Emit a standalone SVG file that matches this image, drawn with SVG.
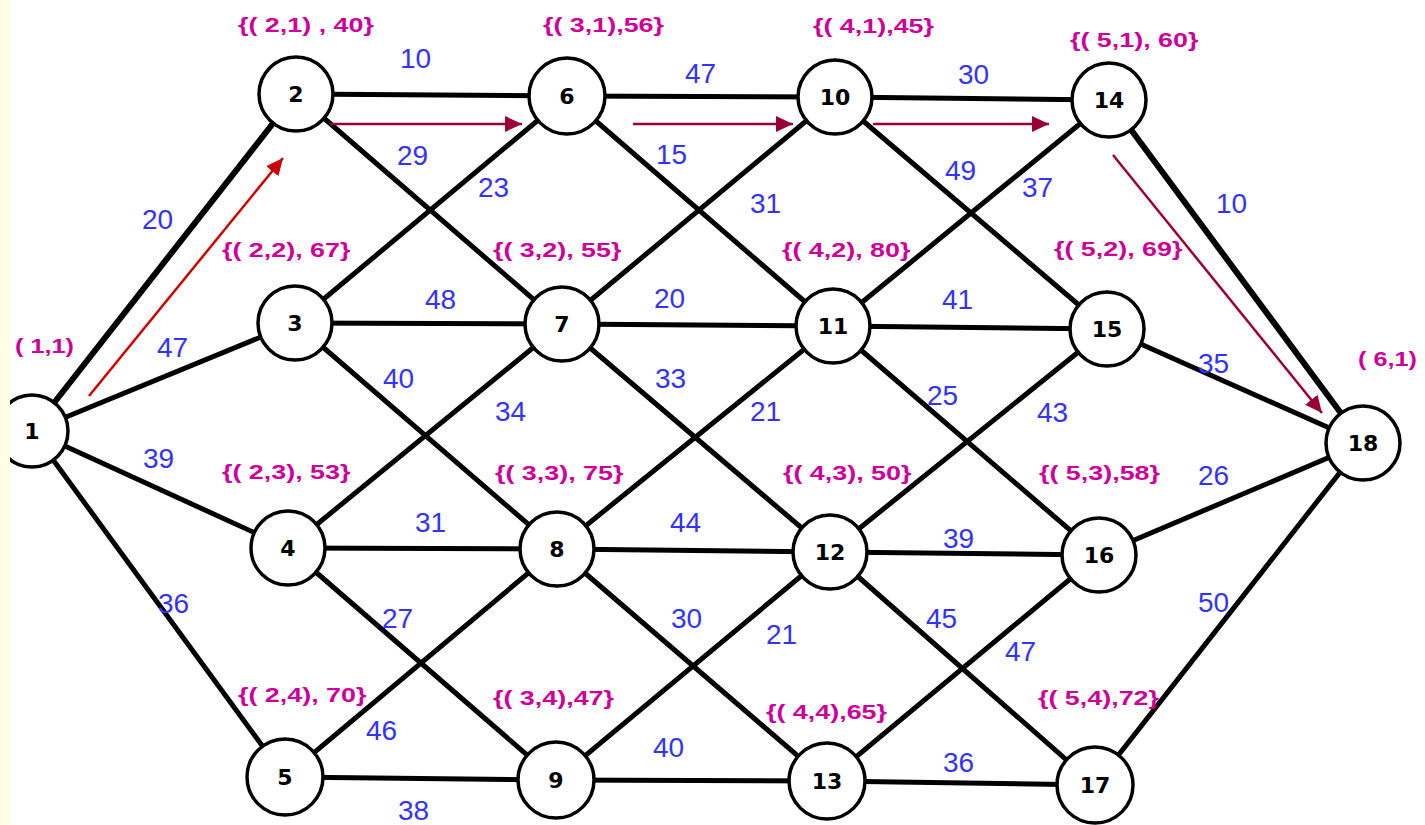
<svg xmlns="http://www.w3.org/2000/svg" width="1425" height="825" viewBox="0 0 1425 825">
<defs>
<style>
.e{stroke:#000;stroke-width:5;stroke-linecap:round}
.n circle{fill:#fff;stroke:#000;stroke-width:3.5}
.n text{font-family:"DejaVu Sans",sans-serif;font-weight:bold;font-size:22px;fill:#000;text-anchor:middle}
.w{font-family:"Liberation Sans",Arial,sans-serif;font-size:28px;fill:#3333FF}
.p{font-family:"Liberation Sans",Arial,sans-serif;font-weight:bold;font-size:21px;fill:#CC0099}
.ar{stroke-width:2.5;fill:none}
</style>
<marker id="hr" markerUnits="userSpaceOnUse" markerWidth="18" markerHeight="16" refX="17" refY="8" orient="auto"><path d="M0,0 L17,8 L0,16 z" fill="#CC0000"/></marker>
<marker id="hm" markerUnits="userSpaceOnUse" markerWidth="18" markerHeight="16" refX="17" refY="8" orient="auto"><path d="M0,0 L17,8 L0,16 z" fill="#990033"/></marker>
</defs>
<rect x="0" y="0" width="1425" height="825" fill="#fff"/>
<g id="connectors">
<line class="e" x1="32" y1="431" x2="296" y2="94" style="stroke-width:6"/>
<line class="e" x1="32" y1="431" x2="295" y2="323"/>
<line class="e" x1="32" y1="431" x2="288" y2="548"/>
<line class="e" x1="32" y1="431" x2="285" y2="777"/>
<line class="e" x1="296" y1="94" x2="567" y2="96"/>
<line class="e" x1="296" y1="94" x2="562" y2="324"/>
<line class="e" x1="295" y1="323" x2="567" y2="96"/>
<line class="e" x1="295" y1="323" x2="562" y2="324"/>
<line class="e" x1="295" y1="323" x2="557" y2="549"/>
<line class="e" x1="288" y1="548" x2="562" y2="324"/>
<line class="e" x1="288" y1="548" x2="557" y2="549"/>
<line class="e" x1="288" y1="548" x2="556" y2="780"/>
<line class="e" x1="285" y1="777" x2="557" y2="549"/>
<line class="e" x1="285" y1="777" x2="556" y2="780"/>
<line class="e" x1="567" y1="96" x2="835" y2="97"/>
<line class="e" x1="567" y1="96" x2="833" y2="326"/>
<line class="e" x1="562" y1="324" x2="835" y2="97"/>
<line class="e" x1="562" y1="324" x2="833" y2="326"/>
<line class="e" x1="562" y1="324" x2="830" y2="552"/>
<line class="e" x1="557" y1="549" x2="833" y2="326"/>
<line class="e" x1="557" y1="549" x2="830" y2="552"/>
<line class="e" x1="557" y1="549" x2="827" y2="781"/>
<line class="e" x1="556" y1="780" x2="830" y2="552"/>
<line class="e" x1="556" y1="780" x2="827" y2="781"/>
<line class="e" x1="835" y1="97" x2="1109" y2="100"/>
<line class="e" x1="835" y1="97" x2="1107" y2="329"/>
<line class="e" x1="833" y1="326" x2="1109" y2="100"/>
<line class="e" x1="833" y1="326" x2="1107" y2="329"/>
<line class="e" x1="833" y1="326" x2="1099" y2="555"/>
<line class="e" x1="830" y1="552" x2="1107" y2="329"/>
<line class="e" x1="830" y1="552" x2="1099" y2="555"/>
<line class="e" x1="830" y1="552" x2="1095" y2="785"/>
<line class="e" x1="827" y1="781" x2="1099" y2="555"/>
<line class="e" x1="827" y1="781" x2="1095" y2="785"/>
<line class="e" x1="1109" y1="100" x2="1363" y2="443" style="stroke-width:6"/>
<line class="e" x1="1107" y1="329" x2="1363" y2="443"/>
<line class="e" x1="1099" y1="555" x2="1363" y2="443"/>
<line class="e" x1="1095" y1="785" x2="1363" y2="443"/>
<line class="ar" stroke="#CC0000" x1="89" y1="396" x2="283" y2="158" marker-end="url(#hr)"/>
<line class="ar" stroke="#990033" x1="330" y1="124" x2="522" y2="124" marker-end="url(#hm)"/>
<line class="ar" stroke="#990033" x1="633" y1="124" x2="793" y2="124" marker-end="url(#hm)"/>
<line class="ar" stroke="#990033" x1="873" y1="124" x2="1049" y2="124" marker-end="url(#hm)"/>
<line class="ar" stroke="#990033" x1="1113" y1="155" x2="1322" y2="413" marker-end="url(#hm)"/>
</g>
<g id="n1" class="n"><circle cx="32" cy="431" r="36"/><text x="32" y="439">1</text></g>
<g id="n2" class="n"><circle cx="296" cy="94" r="37"/><text x="296" y="102">2</text></g>
<g id="n3" class="n"><circle cx="295" cy="323" r="37"/><text x="295" y="331">3</text></g>
<g id="n4" class="n"><circle cx="288" cy="548" r="37"/><text x="288" y="556">4</text></g>
<g id="n5" class="n"><circle cx="285" cy="777" r="38"/><text x="285" y="785">5</text></g>
<g id="n6" class="n"><circle cx="567" cy="96" r="38"/><text x="567" y="104">6</text></g>
<g id="n7" class="n"><circle cx="562" cy="324" r="37"/><text x="562" y="332">7</text></g>
<g id="n8" class="n"><circle cx="557" cy="549" r="37"/><text x="557" y="557">8</text></g>
<g id="n9" class="n"><circle cx="556" cy="780" r="38"/><text x="556" y="788">9</text></g>
<g id="n10" class="n"><circle cx="835" cy="97" r="37"/><text x="835" y="105">10</text></g>
<g id="n11" class="n"><circle cx="833" cy="326" r="37"/><text x="833" y="334">11</text></g>
<g id="n12" class="n"><circle cx="830" cy="552" r="37"/><text x="830" y="560">12</text></g>
<g id="n13" class="n"><circle cx="827" cy="781" r="38"/><text x="827" y="789">13</text></g>
<g id="n14" class="n"><circle cx="1109" cy="100" r="37"/><text x="1109" y="108">14</text></g>
<g id="n15" class="n"><circle cx="1107" cy="329" r="37"/><text x="1107" y="337">15</text></g>
<g id="n16" class="n"><circle cx="1099" cy="555" r="37"/><text x="1099" y="563">16</text></g>
<g id="n17" class="n"><circle cx="1095" cy="785" r="38"/><text x="1095" y="793">17</text></g>
<g id="n18" class="n"><circle cx="1363" cy="443" r="37"/><text x="1363" y="451">18</text></g>
<rect x="0" y="0" width="10" height="825" fill="#FFFFE5"/>
<g id="weights">
<text class="w" x="400" y="68">10</text>
<text class="w" x="685" y="83">47</text>
<text class="w" x="958" y="84">30</text>
<text class="w" x="397" y="165">29</text>
<text class="w" x="478" y="197">23</text>
<text class="w" x="656" y="164">15</text>
<text class="w" x="750" y="213">31</text>
<text class="w" x="945" y="180">49</text>
<text class="w" x="1022" y="197">37</text>
<text class="w" x="1216" y="213">10</text>
<text class="w" x="142" y="229">20</text>
<text class="w" x="157" y="357">47</text>
<text class="w" x="425" y="309">48</text>
<text class="w" x="654" y="308">20</text>
<text class="w" x="942" y="309">41</text>
<text class="w" x="383" y="388">40</text>
<text class="w" x="495" y="421">34</text>
<text class="w" x="655" y="388">33</text>
<text class="w" x="750" y="421">21</text>
<text class="w" x="927" y="405">25</text>
<text class="w" x="1037" y="422">43</text>
<text class="w" x="1198" y="373">35</text>
<text class="w" x="143" y="468">39</text>
<text class="w" x="1198" y="485">26</text>
<text class="w" x="415" y="532">31</text>
<text class="w" x="670" y="532">44</text>
<text class="w" x="943" y="548">39</text>
<text class="w" x="158" y="613">36</text>
<text class="w" x="382" y="628">27</text>
<text class="w" x="671" y="628">30</text>
<text class="w" x="766" y="644">21</text>
<text class="w" x="926" y="628">45</text>
<text class="w" x="1005" y="661">47</text>
<text class="w" x="1198" y="612">50</text>
<text class="w" x="366" y="740">46</text>
<text class="w" x="653" y="757">40</text>
<text class="w" x="943" y="772">36</text>
<text class="w" x="398" y="820">38</text>
</g>
<g id="labels">
<text class="p" transform="translate(238,32) scale(1.28,1)">{( 2,1) , 40}</text>
<text class="p" transform="translate(543,32) scale(1.28,1)">{( 3,1),56}</text>
<text class="p" transform="translate(813,33) scale(1.28,1)">{( 4,1),45}</text>
<text class="p" transform="translate(1070,47) scale(1.28,1)">{( 5,1), 60}</text>
<text class="p" transform="translate(222,257) scale(1.28,1)">{( 2,2), 67}</text>
<text class="p" transform="translate(493,257) scale(1.28,1)">{( 3,2), 55}</text>
<text class="p" transform="translate(782,257) scale(1.28,1)">{( 4,2), 80}</text>
<text class="p" transform="translate(1054,256) scale(1.28,1)">{( 5,2), 69}</text>
<text class="p" transform="translate(15,353) scale(1.2,1)">( 1,1)</text>
<text class="p" transform="translate(1358,366) scale(1.2,1)">( 6,1)</text>
<text class="p" transform="translate(222,479) scale(1.28,1)">{( 2,3), 53}</text>
<text class="p" transform="translate(495,480) scale(1.28,1)">{( 3,3), 75}</text>
<text class="p" transform="translate(783,480) scale(1.28,1)">{( 4,3), 50}</text>
<text class="p" transform="translate(1039,480) scale(1.28,1)">{( 5,3),58}</text>
<text class="p" transform="translate(238,702) scale(1.28,1)">{( 2,4), 70}</text>
<text class="p" transform="translate(493,705) scale(1.28,1)">{( 3,4),47}</text>
<text class="p" transform="translate(766,719) scale(1.28,1)">{( 4,4),65}</text>
<text class="p" transform="translate(1038,705) scale(1.28,1)">{( 5,4),72}</text>
</g>
</svg>
